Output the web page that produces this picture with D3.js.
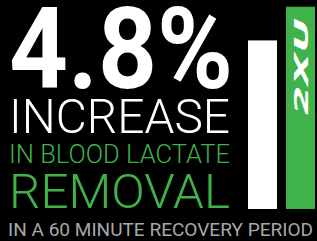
<!DOCTYPE html>
<html>
<head>
<meta charset="utf-8">
<script src="https://cdn.jsdelivr.net/npm/d3@7"></script>
<style>
  body { margin: 0; background: #000; }
  svg { display: block; }
</style>
</head>
<body>
<div id="chart"></div>
<script>
// Data
var categories = ["Control", "2XU"];
var values = [100, 104.8];
var headline = "4.8%";
var lines = ["INCREASE", "IN BLOOD LACTATE", "REMOVAL"];
var footnote = "IN A 60 MINUTE RECOVERY PERIOD";
var brand = "2XU";

var width = 317,
    height = 241;

var green = "#3fb24a",
    grey = "#a8a8a8";

var svg = d3.select("#chart").append("svg")
  .attr("width", width)
  .attr("height", height);

svg.append("rect")
  .attr("width", width).attr("height", height)
  .attr("fill", "#000");

// Bars
var x = d3.scaleBand()
  .domain(categories)
  .range([248, 315])
  .paddingInner(0.237);

var y = d3.scaleLinear()
  .domain([76, 104.8])
  .range([209, 6.7]);

svg.selectAll("rect.bar")
  .data(categories)
  .enter().append("rect")
  .attr("class", "bar")
  .attr("x", function(d) { return x(d); })
  .attr("width", x.bandwidth())
  .attr("y", function(d, i) { return y(values[i]); })
  .attr("height", function(d, i) { return y.range()[0] - y(values[i]); })
  .attr("fill", function(d, i) { return i == 0 ? "#fff" : green; });

// logo on the green bar, reads bottom to top
var lx = x("2XU") + x.bandwidth() / 2;
svg.append("text")
  .attr("transform", "translate(" + (lx + 7.5) + ",115) rotate(-90)")
  .attr("font-family", "DejaVu Sans")
  .attr("font-weight", "bold")
  .attr("font-style", "italic")
  .attr("font-size", 20)
  .attr("fill", "#fff")
  .attr("textLength", 97)
  .attr("lengthAdjust", "spacingAndGlyphs")
  .text(brand);

// Texts
var font = "Roboto, 'DejaVu Sans Condensed', sans-serif";

svg.append("text")
  .attr("x", 9).attr("y", 88)
  .attr("font-family", font)
  .attr("font-weight", "bold")
  .attr("font-size", 114)
  .attr("fill", "#fff")
  .attr("textLength", 224)
  .attr("lengthAdjust", "spacingAndGlyphs")
  .text(headline);

var spec = [
  {y: 133, size: 49, color: "#fff", len: 221},
  {y: 162.5, size: 25, color: green, len: 221},
  {y: 208, size: 49, color: green, len: 221}
];

svg.selectAll("text.line")
  .data(lines)
  .enter().append("text")
  .attr("class", "line")
  .attr("x", 9)
  .attr("y", function(d, i) { return spec[i].y; })
  .attr("font-family", font)
  .attr("font-weight", 300)
  .attr("font-size", function(d, i) { return spec[i].size; })
  .attr("fill", function(d, i) { return spec[i].color; })
  .attr("textLength", function(d, i) { return spec[i].len; })
  .attr("lengthAdjust", "spacingAndGlyphs")
  .text(function(d) { return d; });

svg.append("text")
  .attr("x", 8).attr("y", 236)
  .attr("font-family", font)
  .attr("font-size", 18)
  .attr("fill", grey)
  .attr("textLength", 305)
  .attr("lengthAdjust", "spacingAndGlyphs")
  .text(footnote);
</script>
</body>
</html>
